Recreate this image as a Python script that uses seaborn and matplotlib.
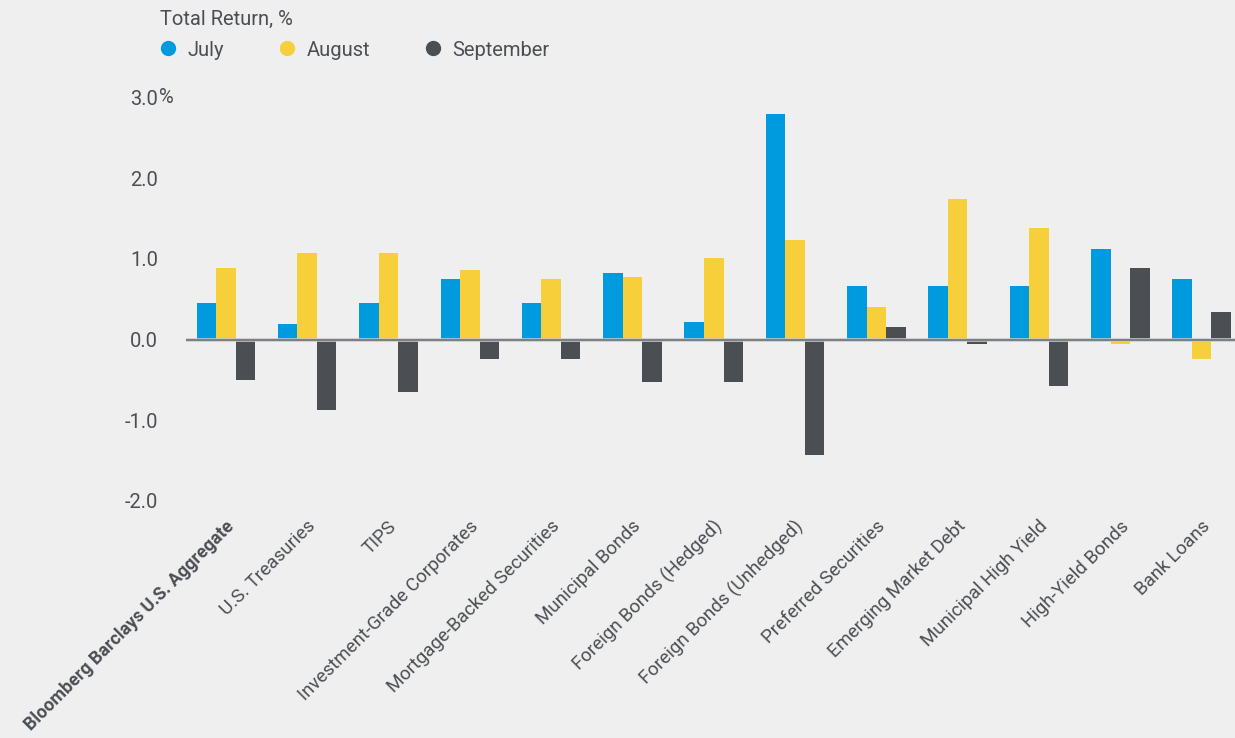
import matplotlib
matplotlib.use("Agg")
import matplotlib.pyplot as plt
from matplotlib.lines import Line2D
import seaborn as sns
import pandas as pd
import numpy as np

categories = ["Bloomberg Barclays U.S. Aggregate", "U.S. Treasuries", "TIPS",
              "Investment-Grade Corporates", "Mortgage-Backed Securities",
              "Municipal Bonds", "Foreign Bonds (Hedged)", "Foreign Bonds (Unhedged)",
              "Preferred Securities", "Emerging Market Debt", "Municipal High Yield",
              "High-Yield Bonds", "Bank Loans"]
july = [0.45, 0.19, 0.45, 0.75, 0.45, 0.82, 0.22, 2.80, 0.67, 0.67, 0.67, 1.12, 0.75]
august = [0.89, 1.08, 1.08, 0.86, 0.75, 0.78, 1.01, 1.23, 0.41, 1.75, 1.38, -0.05, -0.24]
september = [-0.50, -0.87, -0.65, -0.24, -0.24, -0.53, -0.53, -1.43, 0.15, -0.05, -0.57, 0.89, 0.34]
months = ["July", "August", "September"]
yticks = [-2.0, -1.0, 0.0, 1.0, 2.0, 3.0]

colors = {"July": "#009ADE", "August": "#F6CF3B", "September": "#4B4E53"}
bg = "#EFEFEF"
txt = "#4B4E53"

df = pd.DataFrame({
    "Category": categories * 3,
    "Month": sum([[m] * len(categories) for m in months], []),
    "Return": july + august + september,
})

sns.set_theme(style="white")
plt.rcParams["font.family"] = ["Roboto", "DejaVu Sans"]

fig = plt.figure(figsize=(12.35, 7.38), dpi=100, facecolor=bg)
ax = fig.add_axes([0.1506, 0.316, 0.8494, 0.5515], facecolor=bg)

sns.barplot(data=df, x="Category", y="Return", hue="Month", hue_order=months,
            palette=colors, width=0.72, gap=0, saturation=1, ax=ax, legend=False,
            edgecolor="none", linewidth=0)

ax.axhline(0, color="#C9CACC", lw=2.6, zorder=3)
ax.axhline(0, color="#6E7075", lw=1.2, zorder=4)

ax.set_xlim(-0.49, 12.41)
ax.set_ylim(-2.05, 3.0)
ax.set_yticks(yticks)
ax.set_yticklabels([f"{v:.1f}" for v in yticks])
ax.tick_params(axis="y", length=0, pad=20, labelsize=14.5, labelcolor=txt)
for s in ax.spines.values():
    s.set_visible(False)
ax.set_xlabel("")
ax.set_ylabel("")

# percent sign hanging after the top tick label
ax.annotate("%", xy=(0, 3.0), xycoords=("axes fraction", "data"),
            xytext=(-27, 0), textcoords="offset pixels", ha="left", va="center",
            fontsize=14.5, color=txt)

# x labels: top-right end near each group centre
label_pos = [i - 0.01 for i in range(len(categories))]
ax.set_xticks(label_pos)
ax.set_xticklabels(categories, rotation=45, ha="right", va="top",
                   rotation_mode="anchor", fontsize=13.5, color=txt)
ax.tick_params(axis="x", length=0, pad=9)
first = ax.get_xticklabels()[0]
first.set_fontweight("bold")
first.set_fontsize(12.8)

fig.text(160 / 1235, 1 - 19 / 738, "Total Return, %", ha="left", va="center",
         fontsize=14.5, color=txt)
handles = [Line2D([0], [0], marker="o", linestyle="none", markersize=10,
                  markerfacecolor=colors[m], markeredgecolor=colors[m], label=m)
           for m in months]
leg = fig.legend(handles=handles, loc="center left",
                 bbox_to_anchor=(158 / 1235, 1 - 50 / 738), ncol=3, frameon=False,
                 fontsize=14.5, handlelength=1.0, handletextpad=0.45,
                 columnspacing=2.65, borderpad=0, borderaxespad=0)
for t in leg.get_texts():
    t.set_color(txt)

fig.savefig("out.png", dpi=100, facecolor=bg)
